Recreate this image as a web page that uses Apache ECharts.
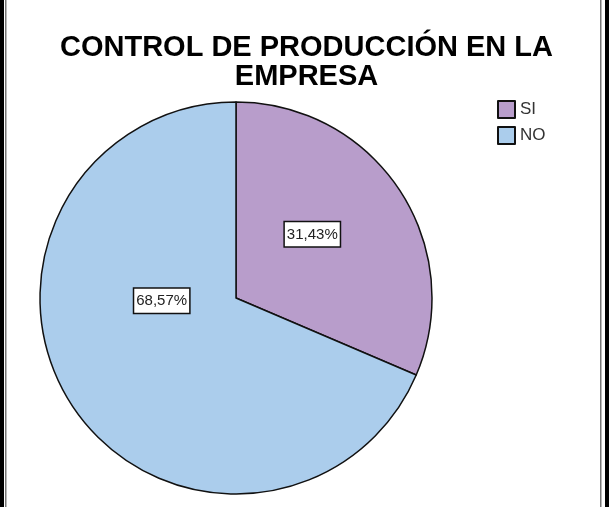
<!DOCTYPE html>
<html>
<head>
<meta charset="utf-8">
<script src="https://cdn.jsdelivr.net/npm/echarts@6/dist/echarts.min.js"></script>
<style>
  html, body { margin: 0; padding: 0; background: #fff; }
  #chart { width: 613px; height: 507px; }
</style>
</head>
<body>
<div id="chart"></div>
<script>
// datos del gráfico
var categorias = ['SI', 'NO']
var valores = [31.43, 68.57]
var colores = ['#b89dcb', '#abcdec']
var titulo = 'CONTROL DE PRODUCCIÓN EN LA\nEMPRESA'

;(function () {
  var myChart = echarts.init(document.getElementById('chart'))

  // desplazamiento de cada etiqueta respecto a su posición 'inside'
  var offsets = [[-8, -8], [10, -53]]

  var data = categorias.map(function (name, i) {
    return {
      name: name,
      value: valores[i],
      itemStyle: { color: colores[i] },
      label: { offset: offsets[i] },
    }
  })

  var option = {
    animation: false,
    title: {
      text: titulo,
      left: 'center',
      top: 28,
      textStyle: {
        fontFamily: 'Liberation Sans',
        fontWeight: 'bold',
        fontSize: 29,
        lineHeight: 29,
        color: '#000',
      },
    },
    legend: {
      orient: 'vertical',
      left: 492,
      top: 95,
      itemWidth: 17,
      itemHeight: 17,
      itemGap: 7,
      itemTextGap: 6,
      icon: 'rect',
      data: categorias,
      textStyle: {
        fontFamily: 'Liberation Sans',
        fontSize: 17,
        color: '#333',
      },
    },
    // marco lateral de la imagen
    graphic: [
      { type: 'rect', shape: { x: 0, y: 0, width: 4, height: 507 }, style: { fill: '#000' } },
      { type: 'rect', shape: { x: 5, y: 0, width: 1.5, height: 507 }, style: { fill: '#777' } },
      { type: 'rect', shape: { x: 600, y: 0, width: 1.5, height: 507 }, style: { fill: '#777' } },
      { type: 'rect', shape: { x: 605, y: 0, width: 4, height: 507 }, style: { fill: '#000' } },
    ],
    series: [
      {
        type: 'pie',
        center: [236, 298],
        radius: 196,
        startAngle: 90,
        clockwise: true,
        silent: true,
        itemStyle: {
          borderColor: '#111',
          borderWidth: 1.5,
        },
        label: {
          show: true,
          position: 'inside',
          formatter: function (p) {
            return p.value.toFixed(2).replace('.', ',') + '%'
          },
          fontFamily: 'Liberation Sans',
          fontSize: 15,
          color: '#222',
          backgroundColor: '#fff',
          borderColor: '#111',
          borderWidth: 1.5,
          padding: [5, 2, 4, 2],
        },
        labelLine: { show: false },
        data: data,
      },
    ],
  }
  myChart.setOption(option)
})()
</script>
</body>
</html>
